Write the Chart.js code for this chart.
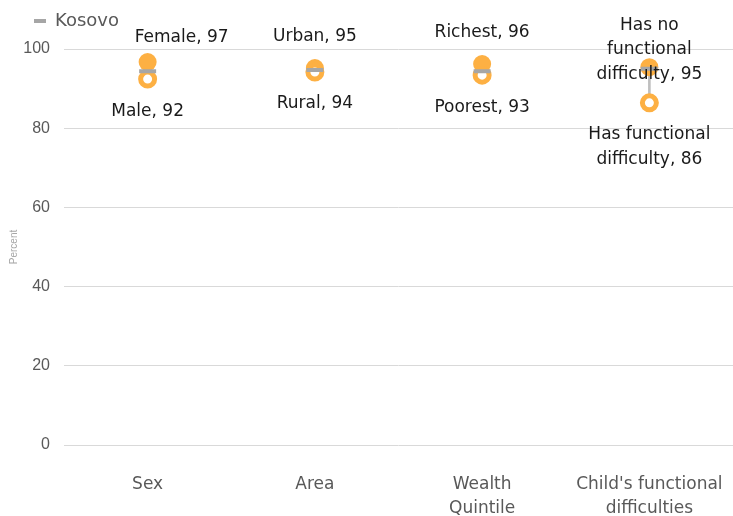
<!DOCTYPE html>
<html>
<head>
<meta charset="utf-8">
<script src="https://cdn.jsdelivr.net/npm/chart.js@4.4.1/dist/chart.umd.min.js"></script>
<style>
  html, body { margin: 0; padding: 0; background: #fff; overflow: hidden; }
  #wrap { position: relative; width: 733px; height: 516px; }
  #chart { display: block; }
</style>
</head>
<body>
<div id="wrap"><canvas id="chart"></canvas></div>
<script>
// categories and values
const categories = ["Sex", "Area", ["Wealth", "Quintile"], ["Child's functional", "difficulties"]];
const highValues = [96.7, 95.2, 96.2, 95.4];
const lowValues = [92.4, 94.2, 93.4, 86.4];
const kosovo = [94.4, 94.7, 94.4, 95.0];
const highLabels = [["Female, 97"], ["Urban, 95"], ["Richest, 96"], ["Has no", "functional", "difficulty, 95"]];
const lowLabels = [["Male, 92"], ["Rural, 94"], ["Poorest, 93"], ["Has functional", "difficulty, 86"]];
const yTicks = [0, 20, 40, 60, 80, 100];

const orange = "#FDB043";
const grey = "#A6A6A6";
const labelFont = "'DejaVu Sans', sans-serif";

// text next to the points
const pointLabels = {
  id: "pointLabels",
  afterDatasetsDraw(chart) {
    const ctx = chart.ctx;
    const hi = chart.getDatasetMeta(1).data;
    const lo = chart.getDatasetMeta(2).data;
    ctx.save();
    ctx.font = "17px " + labelFont;
    ctx.fillStyle = "#1a1a1a";
    ctx.textAlign = "center";
    ctx.textBaseline = "middle";
    const lh = 24.5;
    hi.forEach((p, i) => {
      const lines = highLabels[i];
      const dx = i === 0 ? 34 : 0;
      let last = p.y - 31;
      if (i === 0) last = p.y - 24;
      if (i === 3) last = p.y + 7;
      lines.forEach((t, j) => {
        ctx.fillText(t, p.x + dx, last - (lines.length - 1 - j) * lh);
      });
    });
    lo.forEach((p, i) => {
      lowLabels[i].forEach((t, j) => {
        ctx.fillText(t, p.x, p.y + 32 + j * lh);
      });
    });
    ctx.restore();
  }
};

// move legend right and give it some room below
const legendTweak = {
  id: "legendTweak",
  beforeInit(chart) {
    const fit = chart.legend.fit;
    chart.legend.fit = function () {
      fit.call(this);
      this.height += 9;
    };
  },
  afterLayout(chart) {
    chart.legend.left += 22;
  }
};

new Chart(document.getElementById("chart"), {
  type: "line",
  data: {
    labels: categories,
    datasets: [
      {
        label: "Kosovo",
        data: kosovo,
        showLine: false,
        pointStyle: "line",
        pointRadius: 8.5,
        pointBorderWidth: 4,
        borderWidth: 3,
        borderColor: grey,
        backgroundColor: grey,
        order: 0
      },
      {
        label: "high",
        data: highValues,
        showLine: false,
        pointRadius: 9,
        pointBorderWidth: 0,
        pointBackgroundColor: orange,
        pointBorderColor: orange,
        order: 2
      },
      {
        label: "low",
        data: lowValues,
        showLine: false,
        pointRadius: 7,
        pointBorderWidth: 5,
        pointBackgroundColor: "#fff",
        pointBorderColor: orange,
        order: 1
      },
      {
        type: "bar",
        label: "range",
        data: lowValues.map((v, i) => [v, highValues[i]]),
        backgroundColor: "#BFBFBF",
        barThickness: 2,
        order: 3
      }
    ]
  },
  options: {
    responsive: true,
    maintainAspectRatio: false,
    animation: false,
    layout: { autoPadding: false, padding: { top: 4, right: 0, left: 4, bottom: 0 } },
    plugins: {
      tooltip: { enabled: false },
      legend: {
        position: "top",
        align: "start",
        labels: {
          filter: item => item.text === "Kosovo",
          usePointStyle: true,
          pointStyle: "line",
          pointStyleWidth: 12,
          boxHeight: 12,
          padding: 8,
          color: "#595959",
          font: { size: 18, family: labelFont }
        }
      }
    },
    scales: {
      x: {
        offset: true,
        grid: { display: false, tickLength: 28 },
        border: { display: false },
        afterFit: axis => { axis.height = 71; },
        ticks: {
          color: "#595959",
          padding: 0,
          maxRotation: 0,
          minRotation: 0,
          autoSkip: false,
          font: { size: 17, family: labelFont, lineHeight: 1.4 }
        }
      },
      y: {
        min: 0,
        max: 100,
        afterBuildTicks: axis => { axis.ticks = yTicks.map(v => ({ value: v })); },
        afterFit: axis => { axis.width = 60; },
        grid: { color: "#D9D9D9", drawTicks: false },
        border: { display: false },
        ticks: {
          color: "#595959",
          padding: 14,
          font: { size: 16, family: "'Liberation Sans', Arial, sans-serif" }
        },
        title: {
          display: true,
          text: "Percent",
          color: "#A6A6A6",
          padding: { top: 4, bottom: 0 },
          font: { size: 10, family: "'Liberation Sans', Arial, sans-serif" }
        }
      }
    }
  },
  plugins: [pointLabels, legendTweak]
});
</script>
</body>
</html>
